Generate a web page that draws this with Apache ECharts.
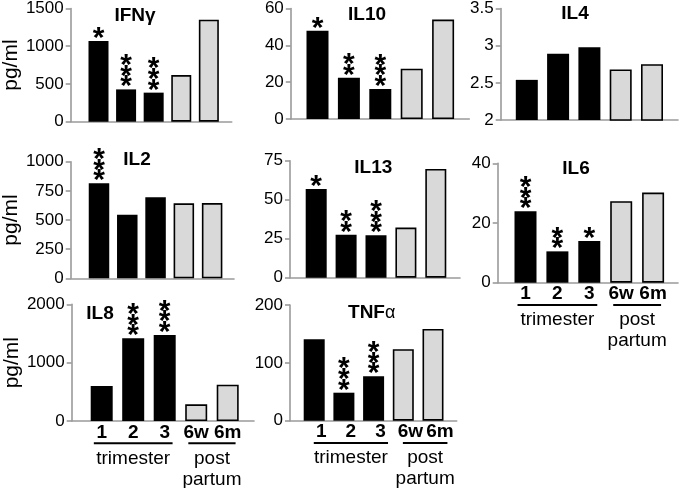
<!DOCTYPE html>
<html><head><meta charset="utf-8">
<script src="https://cdn.jsdelivr.net/npm/echarts@6/dist/echarts.min.js"></script>
<style>html,body{margin:0;padding:0;background:#fff}#c{width:681px;height:488px}</style>
</head><body><div id="c"></div>
<script>
// ---------- data ----------
const groups = ['1', '2', '3', '6w', '6m'];
const panelNames = ['IFNγ', 'IL10', 'IL4', 'IL2', 'IL13', 'IL6', 'IL8', 'TNFα'];
const ifng = [1070, 428, 385, 618, 1352];
const il10 = [47.9, 22.4, 16.3, 27.3, 54.0];
const il4  = [2.54, 2.89, 2.98, 2.68, 2.75];
const il2  = [815, 545, 695, 643, 645];
const il13 = [56.9, 27.6, 27.2, 32.1, 69.7];
const il6  = [23.9, 10.5, 14.0, 27.3, 30.2];
const il8  = [600, 1418, 1475, 286, 623];
const tnfa = [140.8, 48.4, 76.8, 123.5, 158.7];
const sigIfng = [1, 3, 3, 0, 0];
const sigIl10 = [1, 2, 3, 0, 0];
const sigIl4  = [0, 0, 0, 0, 0];
const sigIl2  = [3, 0, 0, 0, 0];
const sigIl13 = [1, 2, 3, 0, 0];
const sigIl6  = [3, 2, 1, 0, 0];
const sigIl8  = [0, 3, 3, 0, 0];
const sigTnfa = [0, 3, 3, 0, 0];
const yMin  = [0, 0, 2, 0, 0, 0, 0, 0];
const yMax  = [1500, 60, 3.5, 1000, 75, 40, 2000, 200];
const yStep = [500, 20, 0.5, 250, 25, 20, 1000, 100];
const yName = 'pg/ml';
const groupLabels = ['trimester', 'post\npartum'];
const groupMembers = [[0, 1, 2], [3, 4]];

const values = [ifng, il10, il4, il2, il13, il6, il8, tnfa];
const sigs = [sigIfng, sigIl10, sigIl4, sigIl2, sigIl13, sigIl6, sigIl8, sigTnfa];

// ---------- layout ----------
const L = [
  {left: 68.3, top: 6.7, bottom: 121.7, x0: 68.5, unit: 28, right: 231.7, bw: 20, tx: 135, ty: 15.5},
  {left: 290.8, top: 6.7, bottom: 119, x0: 286.1, unit: 31.4, right: 469.3, bw: 22, tx: 367, ty: 14.5},
  {left: 500.7, top: 6.7, bottom: 120, x0: 495.5, unit: 31.3, right: 678, bw: 22, tx: 575, ty: 14},
  {left: 68.3, top: 161.7, bottom: 278.3, x0: 68.3, unit: 28.7, right: 234, bw: 20.5, tx: 137, ty: 160},
  {left: 290, top: 160.7, bottom: 277.7, x0: 286.3, unit: 29.9, right: 460, bw: 21, tx: 373.3, ty: 168},
  {left: 497.7, top: 163.3, bottom: 282.7, x0: 493.6, unit: 31.9, right: 678, bw: 22, tx: 576, ty: 168.3},
  {left: 71.7, top: 304.3, bottom: 421, x0: 70.2, unit: 31.5, right: 254, bw: 22, tx: 100, ty: 314},
  {left: 290, top: 305, bottom: 420.7, x0: 284.5, unit: 29.7, right: 456.7, bw: 21, tx: 371.7, ty: 313}
];
const leftCol = [0, 3, 6];
const bottomRow = [5, 6, 7];
const groupShift = {5: 0, 6: 0, 7: 7};
const FONT = '"Liberation Sans", Arial, Helvetica, sans-serif';
const AXIS_COLOR = '#9a9a9a';

const grid = [], xAxis = [], yAxis = [], series = [];
L.forEach((p, i) => {
  grid.push({left: p.left, top: p.top, width: p.right - p.left, height: p.bottom - p.top, containLabel: false});
  const showX = bottomRow.includes(i);
  xAxis.push({
    type: 'value', gridIndex: i,
    min: (p.left - p.x0) / p.unit, max: (p.right - p.x0) / p.unit,
    axisLine: {show: true, onZero: false, lineStyle: {color: AXIS_COLOR, width: 1.6}},
    axisTick: {show: false}, splitLine: {show: false},
    axisLabel: {
      show: showX, customValues: [1, 2, 3, 4, 5],
      formatter: v => groups[Math.round(v) - 1] || '',
      fontSize: 19, fontWeight: 'bold', color: '#000', fontFamily: FONT, margin: 2,
      padding: i === 7 ? [0, 0, 0, 14] : 0
    }
  });
  yAxis.push({
    type: 'value', gridIndex: i, min: yMin[i], max: yMax[i], interval: yStep[i],
    axisLine: {show: true, onZero: false, lineStyle: {color: AXIS_COLOR, width: 1.6}},
    axisTick: {show: true, length: 5, lineStyle: {color: AXIS_COLOR, width: 1.6}},
    splitLine: {show: false},
    axisLabel: {fontSize: 17, color: '#000', fontFamily: FONT, margin: 7, formatter: v => String(v)},
    name: leftCol.includes(i) ? yName : '',
    nameLocation: 'middle', nameGap: p.left - 26,
    nameTextStyle: {fontSize: 21, color: '#000', fontFamily: FONT}
  });
  series.push({
    type: 'bar', xAxisIndex: i, yAxisIndex: i, barWidth: p.bw,
    data: values[i].map((v, k) => ({
      value: [k + 1, v],
      itemStyle: k < 3 ? {color: '#000'} : {color: '#d9d9d9', borderColor: '#000', borderWidth: 1.6}
    })),
    label: {
      show: true, position: 'top', distance: -3,
      formatter: prm => Array(sigs[i][prm.dataIndex]).fill('*').join('\n'),
      fontSize: 30, lineHeight: 10.6, fontWeight: 'bold', color: '#000', fontFamily: FONT
    },
    silent: true, animation: false
  });
});

const chart = echarts.init(document.getElementById('c'), null, {renderer: 'canvas'});
chart.setOption({backgroundColor: '#fff', animation: false, grid, xAxis, yAxis, series});

// ---------- titles and group annotations ----------
const graphic = [];
L.forEach((p, i) => {
  const name = panelNames[i];
  const isTnf = name === 'TNFα';
  graphic.push({
    type: 'text', x: p.tx, y: p.ty,
    style: isTnf ? {
      text: '{b|TNF}{a|α}', align: 'center', verticalAlign: 'middle',
      rich: {b: {fontSize: 19, fontWeight: 'bold', fontFamily: FONT, fill: '#000'},
             a: {fontSize: 18, fontFamily: FONT, fill: '#000'}}
    } : {text: name, align: 'center', verticalAlign: 'middle', fill: '#000',
         font: 'bold 19px ' + FONT}
  });
});
bottomRow.forEach(i => {
  const px = v => chart.convertToPixel({xAxisIndex: i}, v);
  const y0 = chart.convertToPixel({yAxisIndex: i}, 0);
  const sh = groupShift[i];
  groupMembers.forEach((mem, g) => {
    const first = mem[0] + 1, last = mem[mem.length - 1] + 1;
    const xa = px(first - 0.25) + sh, xb = px(last + 0.25) + sh;
    graphic.push({type: 'line', shape: {x1: xa, y1: y0 + 22.3, x2: xb, y2: y0 + 22.3},
                  style: {stroke: '#000', lineWidth: 2}});
    graphic.push({type: 'text', x: px((first + last) / 2) + sh, y: y0 + 27,
                  style: {text: groupLabels[g], align: 'center', verticalAlign: 'top',
                          font: '19px ' + FONT, fill: '#000', lineHeight: 21}});
  });
});
chart.setOption({graphic});
</script>
</body></html>
